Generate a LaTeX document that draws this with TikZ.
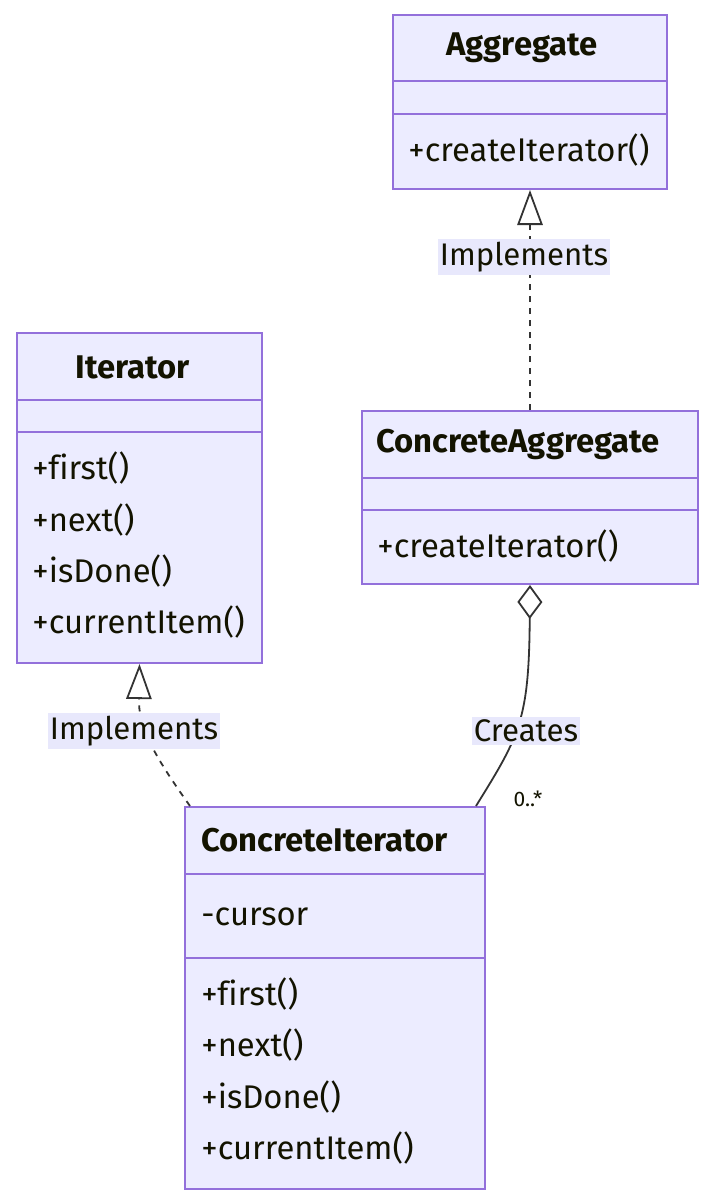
\documentclass[tikz,border=0pt]{standalone}
\usepackage{fontspec}
\setmainfont[Ligatures=NoCommon]{Fira Sans}
\usetikzlibrary{arrows.meta}
\definecolor{boxfill}{HTML}{ECECFF}
\definecolor{boxline}{HTML}{9370DB}
\definecolor{txt}{HTML}{131300}
\definecolor{edge}{HTML}{333333}
\definecolor{lblbg}{HTML}{E8E8FC}
\begin{document}
\begin{tikzpicture}[x=0.5pt,y=-0.5pt,
  classbox/.style={draw=boxline, fill=boxfill, line width=1pt, inner sep=0pt, anchor=north west},
  divider/.style={draw=boxline, line width=1pt},
  title/.style={font=\fontsize{16.4}{19}\selectfont\bfseries, text=txt, inner sep=0pt},
  member/.style={font=\fontsize{16.4}{19}\selectfont, text=txt, inner sep=0pt, anchor=west},
  elabel/.style={font=\fontsize{15.6}{18}\selectfont, text=txt, fill=lblbg, inner xsep=1pt, inner ysep=1.5pt},
  mult/.style={font=\fontsize{10.5}{12}\selectfont, text=txt, inner sep=0pt},
  realize/.style={draw=edge, line width=0.9pt, dash pattern=on 3pt off 3pt,
     -{Triangle[open, length=17.5pt, width=12.7pt, line width=0.9pt]}},
  aggr/.style={draw=edge, line width=0.9pt,
     {Diamond[open, length=17pt, width=12.5pt, line width=0.9pt]}-}
]
\useasboundingbox (0,0) rectangle (712,1194);

% Aggregate
\node[classbox, minimum width=137pt, minimum height=87pt] (agg) at (392,14) {};
\draw[divider] (392,81) -- (666,81);
\draw[divider] (392,114) -- (666,114);
\node[title] (aggT) at (522,48) {Aggregate};
\node[member] (aggM1) at (408,150) {+createIterator()};

% Iterator
\node[classbox, minimum width=122.5pt, minimum height=165pt] (iter) at (16,332) {};
\draw[divider] (16,400) -- (261,400);
\draw[divider] (16,432) -- (261,432);
\node[title] (iterT) at (132.5,367) {Iterator};
\node[member] (iterM1) at (32,468) {+first()};
\node[member] (iterM2) at (32,520) {+next()};
\node[member] (iterM3) at (32,571) {+isDone()};
\node[member] (iterM4) at (32,622) {+currentItem()};

% ConcreteAggregate
\node[classbox, minimum width=168pt, minimum height=86.5pt] (cagg) at (361,410) {};
\draw[divider] (361,478) -- (697,478);
\draw[divider] (361,510) -- (697,510);
\node[title] (caggT) at (518,444) {ConcreteAggregate};
\node[member] (caggM1) at (377,546) {+createIterator()};

% ConcreteIterator
\node[classbox, minimum width=150pt, minimum height=191pt] (citer) at (184,806) {};
\draw[divider] (184,874) -- (484,874);
\draw[divider] (184,958) -- (484,958);
\node[title] (citerT) at (324.5,840) {ConcreteIterator};
\node[member] (citerA1) at (201,917) {-cursor};
\node[member] (citerM1) at (201,994) {+first()};
\node[member] (citerM2) at (201,1045) {+next()};
\node[member] (citerM3) at (201,1097) {+isDone()};
\node[member] (citerM4) at (201,1148) {+currentItem()};

% Edges
\draw[realize] (cagg.north) -- (agg.south);
\coordinate (e2s) at (190,806);
\draw[realize] (e2s) .. controls (150,750) and (138.5,725) .. (iter.south);
\coordinate (e3e) at (476,806);
\draw[aggr] (cagg.south) .. controls (529,720) and (520,735) .. (e3e);

% Edge labels
\node[elabel] (l1) at (524,257) {Implements};
\node[elabel] (l2) at (134,731) {Implements};
\node[elabel] (l3) at (526,731) {Creates};
\node[mult] (m3) at (528,799) {0..*};
\end{tikzpicture}
\end{document}
